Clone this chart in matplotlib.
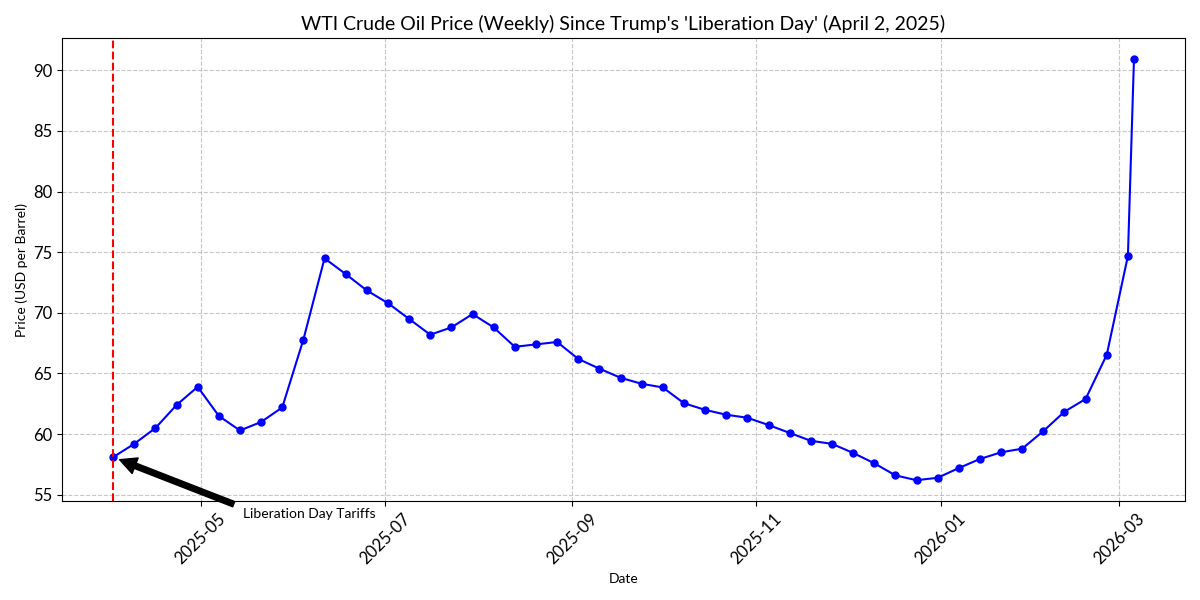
import numpy as np
import pandas as pd
import matplotlib.pyplot as plt
import matplotlib.dates as mdates

plt.rcParams['font.family'] = ['Lato', 'DejaVu Sans']

# weekly WTI closes (Wednesdays from Apr 2, 2025) plus the latest reading
week_start = "2025-04-02"
n_weeks = 49
latest_date = "2026-03-06"
prices = [58.1, 59.2, 60.5, 62.4, 63.9, 61.5, 60.3, 61.0, 62.2, 67.8,
          74.5, 73.2, 71.85, 70.8, 69.5, 68.2, 68.8, 69.9, 68.8, 67.2,
          67.4, 67.6, 66.2, 65.4, 64.65, 64.15, 63.85, 62.55, 62.0, 61.6,
          61.35, 60.75, 60.1, 59.45, 59.2, 58.45, 57.6, 56.6, 56.2, 56.4,
          57.2, 57.95, 58.5, 58.8, 60.25, 61.85, 62.9, 66.55, 74.7, 90.9]

liberation_day = pd.Timestamp("2025-04-02")
label_text = "Liberation Day Tariffs"

dates = list(pd.date_range(week_start, periods=n_weeks, freq="7D")) + [pd.Timestamp(latest_date)]
df = pd.DataFrame({"date": dates, "price": prices})

fig, ax = plt.subplots(figsize=(12, 6), dpi=100)
ax.plot(df["date"], df["price"], marker="o", markersize=5, color="blue", linewidth=1.5)
ax.axvline(liberation_day, color="red", linestyle="--", linewidth=1.5)

start_price = df["price"].iloc[0]
ax.annotate(label_text,
            xy=(liberation_day, start_price),
            xytext=(liberation_day + pd.Timedelta(days=43), start_price - 5),
            arrowprops=dict(facecolor="black", shrink=0.05),
            fontsize=10)

ax.set_title("WTI Crude Oil Price (Weekly) Since Trump's 'Liberation Day' (April 2, 2025)", fontsize=14)
ax.set_xlabel("Date")
ax.set_ylabel("Price (USD per Barrel)")
ax.grid(True, linestyle="--", alpha=0.7)
ax.xaxis.set_major_locator(mdates.MonthLocator(bymonth=[1, 3, 5, 7, 9, 11]))
ax.xaxis.set_major_formatter(mdates.DateFormatter("%Y-%m"))
plt.setp(ax.get_xticklabels(), rotation=45, fontsize=12)
plt.setp(ax.get_yticklabels(), fontsize=12)

plt.tight_layout()
plt.savefig("out.png")
